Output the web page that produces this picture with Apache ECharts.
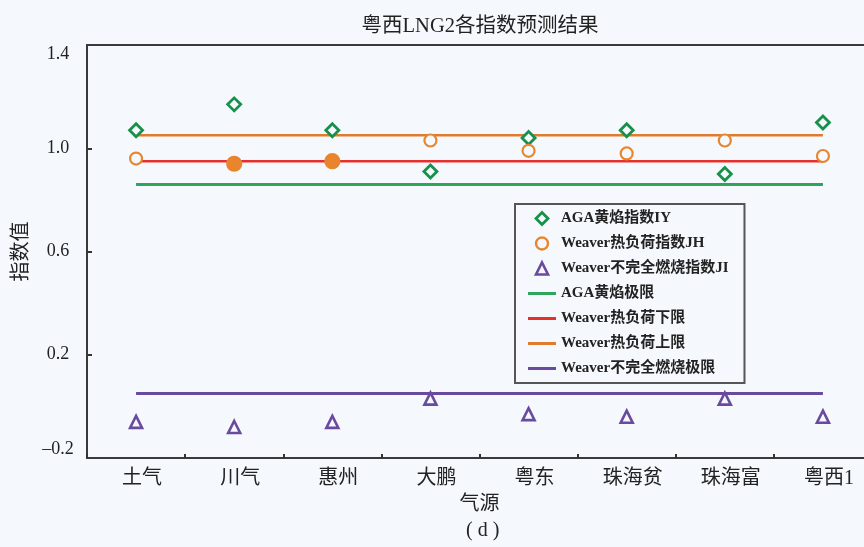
<!DOCTYPE html>
<html>
<head>
<meta charset="utf-8">
<title>粤西LNG2各指数预测结果</title>
<script src="https://cdn.jsdelivr.net/npm/echarts@6/dist/echarts.min.js"></script>
<style>
  html, body { margin: 0; padding: 0; background: #f5f9fd; }
  #chart { width: 864px; height: 547px; }
</style>
</head>
<body>
<div id="chart"></div>
<script>
// Gas sources along the x axis
const categories = ['土气', '川气', '惠州', '大鹏', '粤东', '珠海贫', '珠海富', '粤西1'];

// Predicted indices for each gas source
const aggIY = [1.07, 1.17, 1.07, 0.91, 1.04, 1.07, 0.90, 1.10];   // AGA黄焰指数IY
const weaverJH = [0.96, 0.94, 0.95, 1.03, 0.99, 0.98, 1.03, 0.97]; // Weaver热负荷指数JH
const weaverJI = [-0.06, -0.08, -0.06, 0.03, -0.03, -0.04, 0.03, -0.04]; // Weaver不完全燃烧指数JI
const jhSolidPoints = ['川气', '惠州'];

// Limit values
const agaLimit = 0.86;
const jhLower = 0.95;
const jhUpper = 1.05;
const jiLimit = 0.05;

// Axis tick labels
const yLabelValues = [-0.2, 0.2, 0.6, 1.0, 1.4];
const yTickValues = [0.2, 0.6, 1.0];

const BG = '#f5f9fd';
const GREEN = '#17904a';
const ORANGE = '#e8852d';
const PURPLE = '#6a4a9e';
const C_AGA = '#2ea45c';
const C_LOW = '#e6302c';
const C_UP = '#e07a2e';
const serif = "'Liberation Serif', 'Noto Sans CJK SC', serif";

// Legend icons (square boxes keep their aspect ratio)
const ICON_DIAMOND = 'path://M5,0L10,5L5,10L0,5Z';
const ICON_CIRCLE = 'path://M5,0A5,5,0,1,1,4.99,0Z';
const ICON_TRIANGLE = 'path://M5,0L10,10L0,10Z';
const ICON_BAR = 'path://M0,0H28V3H0Z';

function limitLine(name, value, color, width) {
  return {
    name: name,
    type: 'line',
    symbol: 'none',
    z: 2,
    lineStyle: { color: color, width: width },
    itemStyle: { color: color },
    data: [[categories[0], value], [categories[categories.length - 1], value]]
  };
}

function barIcon(name, color) {
  return { name: name, icon: ICON_BAR, itemStyle: { color: color, borderWidth: 0 } };
}

const chart = echarts.init(document.getElementById('chart'), null, { renderer: 'canvas' });

chart.setOption({
  backgroundColor: BG,
  animation: false,
  title: {
    text: '粤西LNG2各指数预测结果',
    left: 475,
    top: 11,
    textAlign: 'center',
    textStyle: { fontFamily: serif, fontSize: 20.5, fontWeight: 'normal', color: '#222' }
  },
  grid: {
    left: 87, top: 45, right: -8, bottom: 89,
    containLabel: false,
    outerBoundsMode: 'none',
    show: true, borderColor: '#3a3a3a', borderWidth: 2, backgroundColor: BG
  },
  legend: {
    orient: 'vertical',
    left: 515, top: 204,
    padding: [7, 16, 7, 13],
    itemWidth: 28, itemHeight: 12, itemGap: 10,
    borderColor: '#555', borderWidth: 2,
    backgroundColor: BG,
    textStyle: { fontFamily: serif, fontSize: 15, fontWeight: 'bold', color: '#222', lineHeight: 14 },
    data: [
      { name: 'AGA黄焰指数IY', icon: ICON_DIAMOND, itemStyle: { color: BG, borderColor: GREEN, borderWidth: 2.8, opacity: 1 } },
      { name: 'Weaver热负荷指数JH', icon: ICON_CIRCLE, itemStyle: { color: BG, borderColor: ORANGE, borderWidth: 2.4, opacity: 1 } },
      { name: 'Weaver不完全燃烧指数JI', icon: ICON_TRIANGLE, itemStyle: { color: BG, borderColor: PURPLE, borderWidth: 2.6, opacity: 1 } },
      barIcon('AGA黄焰极限', C_AGA),
      barIcon('Weaver热负荷下限', C_LOW),
      barIcon('Weaver热负荷上限', C_UP),
      barIcon('Weaver不完全燃烧极限', PURPLE)
    ]
  },
  xAxis: {
    type: 'category',
    data: categories,
    boundaryGap: true,
    name: '气源',
    nameLocation: 'middle',
    nameGap: 37,
    nameTextStyle: { fontFamily: serif, fontSize: 20, color: '#222' },
    axisLine: { show: false, onZero: false },
    axisTick: { show: true, inside: true, length: 4, lineStyle: { color: '#333', width: 2 } },
    axisLabel: { fontFamily: serif, fontSize: 20, color: '#222', margin: 11, padding: [0, 0, 0, 12] },
    splitLine: { show: false }
  },
  yAxis: {
    type: 'value',
    min: -0.2, max: 1.4,
    name: '指数值',
    nameLocation: 'middle',
    nameRotate: 90,
    nameGap: 54,
    nameTextStyle: { fontFamily: serif, fontSize: 20, color: '#222' },
    axisLine: { show: false, onZero: false },
    axisTick: { show: true, inside: true, length: 5, customValues: yTickValues,
                lineStyle: { color: '#333', width: 2 } },
    axisLabel: {
      customValues: yLabelValues,
      fontFamily: serif, fontSize: 18, color: '#222',
      align: 'center', margin: 29,
      verticalAlignMinLabel: 'bottom',
      verticalAlignMaxLabel: 'top',
      formatter: v => v.toFixed(1).replace('-', '–')
    },
    splitLine: { show: false }
  },
  graphic: [{
    type: 'text',
    left: 480 - 14, top: 521,
    style: { text: '( d )', fontFamily: serif, fontSize: 20, fill: '#222' }
  }],
  series: [
    {
      name: 'AGA黄焰指数IY',
      type: 'scatter',
      symbol: 'diamond',
      symbolSize: 13,
      z: 3,
      itemStyle: { color: BG, borderColor: GREEN, borderWidth: 2.8, opacity: 1 },
      data: aggIY
    },
    {
      name: 'Weaver热负荷指数JH',
      type: 'scatter',
      symbol: 'circle',
      symbolSize: 12,
      z: 3,
      itemStyle: { color: BG, borderColor: ORANGE, borderWidth: 2.2, opacity: 1 },
      data: weaverJH.map((v, i) => jhSolidPoints.includes(categories[i])
        ? { value: v, symbolSize: 14, itemStyle: { color: ORANGE } }
        : v)
    },
    {
      name: 'Weaver不完全燃烧指数JI',
      type: 'scatter',
      symbol: 'triangle',
      symbolSize: 12,
      z: 3,
      itemStyle: { color: BG, borderColor: PURPLE, borderWidth: 2.6, opacity: 1 },
      data: weaverJI
    },
    limitLine('AGA黄焰极限', agaLimit, C_AGA, 3),
    limitLine('Weaver热负荷下限', jhLower, C_LOW, 2.5),
    limitLine('Weaver热负荷上限', jhUpper, C_UP, 2.5),
    limitLine('Weaver不完全燃烧极限', jiLimit, PURPLE, 3)
  ]
});
</script>
</body>
</html>
